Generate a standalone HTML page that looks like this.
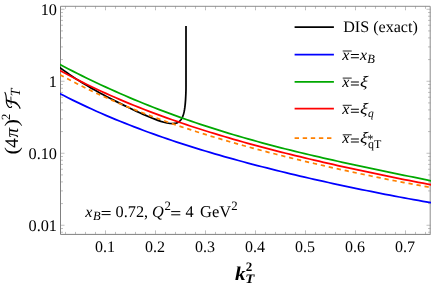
<!DOCTYPE html>
<html><head><meta charset="utf-8"><title>plot</title>
<style>html,body{margin:0;padding:0;background:#fff;overflow:hidden}body{width:433px;height:286px;position:relative;font-family:"Liberation Serif",serif}</style>
</head><body>
<svg width="433" height="286" viewBox="0 0 433 286" style="position:absolute;left:0;top:0;will-change:transform">
<rect width="433" height="286" fill="#fff"/>
<g stroke="#808080" fill="none">
<path d="M60.5 6.3 V234.4 H430.5" stroke-width="1"/>
<path d="M60.5 6.3 H430.2 V234.4" stroke-width="1" stroke="#8c8c8c"/>
<path d="M65.50 234.4 v-2.5 M65.50 6.3 v2.5 M75.50 234.4 v-2.5 M75.50 6.3 v2.5 M85.50 234.4 v-2.5 M85.50 6.3 v2.5 M95.50 234.4 v-2.5 M95.50 6.3 v2.5 M105.50 234.4 v-4 M105.50 6.3 v4 M115.50 234.4 v-2.5 M115.50 6.3 v2.5 M125.50 234.4 v-2.5 M125.50 6.3 v2.5 M135.50 234.4 v-2.5 M135.50 6.3 v2.5 M145.50 234.4 v-2.5 M145.50 6.3 v2.5 M155.50 234.4 v-4 M155.50 6.3 v4 M165.50 234.4 v-2.5 M165.50 6.3 v2.5 M175.50 234.4 v-2.5 M175.50 6.3 v2.5 M185.50 234.4 v-2.5 M185.50 6.3 v2.5 M195.50 234.4 v-2.5 M195.50 6.3 v2.5 M205.50 234.4 v-4 M205.50 6.3 v4 M215.50 234.4 v-2.5 M215.50 6.3 v2.5 M225.50 234.4 v-2.5 M225.50 6.3 v2.5 M235.50 234.4 v-2.5 M235.50 6.3 v2.5 M245.50 234.4 v-2.5 M245.50 6.3 v2.5 M255.50 234.4 v-4 M255.50 6.3 v4 M265.50 234.4 v-2.5 M265.50 6.3 v2.5 M275.50 234.4 v-2.5 M275.50 6.3 v2.5 M285.50 234.4 v-2.5 M285.50 6.3 v2.5 M295.50 234.4 v-2.5 M295.50 6.3 v2.5 M305.50 234.4 v-4 M305.50 6.3 v4 M315.50 234.4 v-2.5 M315.50 6.3 v2.5 M325.50 234.4 v-2.5 M325.50 6.3 v2.5 M335.50 234.4 v-2.5 M335.50 6.3 v2.5 M345.50 234.4 v-2.5 M345.50 6.3 v2.5 M355.50 234.4 v-4 M355.50 6.3 v4 M365.50 234.4 v-2.5 M365.50 6.3 v2.5 M375.50 234.4 v-2.5 M375.50 6.3 v2.5 M385.50 234.4 v-2.5 M385.50 6.3 v2.5 M395.50 234.4 v-2.5 M395.50 6.3 v2.5 M405.50 234.4 v-4 M405.50 6.3 v4 M415.50 234.4 v-2.5 M415.50 6.3 v2.5 M425.50 234.4 v-2.5 M425.50 6.3 v2.5 M60.5 232.23 h2.5 M430.5 232.23 h-2.5 M60.5 228.54 h2.5 M430.5 228.54 h-2.5 M60.5 225.25 h4 M430.5 225.25 h-4 M60.5 203.58 h2.5 M430.5 203.58 h-2.5 M60.5 190.90 h2.5 M430.5 190.90 h-2.5 M60.5 181.90 h2.5 M430.5 181.90 h-2.5 M60.5 174.92 h2.5 M430.5 174.92 h-2.5 M60.5 169.22 h2.5 M430.5 169.22 h-2.5 M60.5 164.40 h2.5 M430.5 164.40 h-2.5 M60.5 160.23 h2.5 M430.5 160.23 h-2.5 M60.5 156.54 h2.5 M430.5 156.54 h-2.5 M60.5 153.25 h4 M430.5 153.25 h-4 M60.5 131.58 h2.5 M430.5 131.58 h-2.5 M60.5 118.90 h2.5 M430.5 118.90 h-2.5 M60.5 109.90 h2.5 M430.5 109.90 h-2.5 M60.5 102.92 h2.5 M430.5 102.92 h-2.5 M60.5 97.22 h2.5 M430.5 97.22 h-2.5 M60.5 92.40 h2.5 M430.5 92.40 h-2.5 M60.5 88.23 h2.5 M430.5 88.23 h-2.5 M60.5 84.54 h2.5 M430.5 84.54 h-2.5 M60.5 81.25 h4 M430.5 81.25 h-4 M60.5 59.58 h2.5 M430.5 59.58 h-2.5 M60.5 46.90 h2.5 M430.5 46.90 h-2.5 M60.5 37.90 h2.5 M430.5 37.90 h-2.5 M60.5 30.92 h2.5 M430.5 30.92 h-2.5 M60.5 25.22 h2.5 M430.5 25.22 h-2.5 M60.5 20.40 h2.5 M430.5 20.40 h-2.5 M60.5 16.23 h2.5 M430.5 16.23 h-2.5 M60.5 12.54 h2.5 M430.5 12.54 h-2.5 M60.5 9.25 h4 M430.5 9.25 h-4" stroke-width="0.5"/>
</g>
<clipPath id="c"><rect x="60.0" y="6.3" width="371.0" height="228.1"/></clipPath>
<g clip-path="url(#c)" fill="none" stroke-width="1.75" stroke-linejoin="round">
<path d="M58.00 66.19 L61.03 68.46 L64.05 70.66 L67.08 72.81 L70.10 74.90 L73.13 76.93 L76.15 78.91 L79.18 80.84 L82.21 82.73 L85.23 84.57 L88.26 86.37 L91.28 88.13 L94.31 89.86 L97.33 91.55 L100.36 93.21 L103.38 94.84 L106.41 96.45 L109.44 98.03 L112.46 99.58 L115.49 101.12 L118.51 102.63 L121.54 104.13 L124.56 105.60 L127.59 107.06 L130.62 108.51 L133.64 109.93 L136.67 111.34 L139.69 112.72 L142.72 114.08 L145.74 115.42 L148.77 116.71 L151.79 117.97 L154.82 119.17 L157.85 120.31 L160.87 121.35 L163.90 122.26 L166.92 123.00 L169.95 123.50 L172.97 123.62 L176.00 123.16 L176.00 123.16 L176.24 123.09 L176.49 123.01 L176.73 122.92 L176.97 122.82 L177.22 122.72 L177.46 122.61 L177.71 122.49 L177.95 122.36 L178.19 122.22 L178.44 122.07 L178.68 121.90 L178.92 121.73 L179.17 121.54 L179.41 121.34 L179.65 121.12 L179.90 120.89 L180.14 120.64 L180.38 120.37 L180.63 120.08 L180.87 119.77 L181.12 119.43 L181.36 119.07 L181.60 118.68 L181.85 118.25 L182.09 117.79 L182.33 117.29 L182.58 116.74 L182.82 116.14 L183.06 115.48 L183.31 114.75 L183.55 113.93 L183.79 113.03 L184.04 112.00 L184.28 110.83 L184.53 109.48 L184.77 107.89 L185.01 105.99 L185.26 103.64 L185.50 100.60 L185.50 100.60 L185.61 98.83 L185.71 97.05 L185.79 95.25 L185.87 93.44 L185.93 91.62 L185.98 89.80 L186.00 87.96 L186.00 86.12 L186.00 84.27 L186.00 82.42 L186.00 80.57 L186.00 78.71 L186.00 76.84 L186.00 74.98 L186.00 73.11 L186.00 71.24 L186.00 69.37 L186.00 67.50 L186.00 65.63 L186.00 63.76 L186.00 61.88 L186.00 60.01 L186.00 58.13 L186.00 56.25 L186.00 54.38 L186.00 52.50 L186.00 50.62 L186.00 48.74 L186.00 46.87 L186.00 44.99 L186.00 43.11 L186.00 41.23 L186.00 39.35 L186.00 37.47 L186.00 35.59 L186.00 33.71 L186.00 31.83 L186.00 29.95 L186.00 28.07 L186.00 26.20 L186.00 26.00" stroke="#000"/>
<path d="M58.50 92.90 L63.23 95.34 L67.97 97.74 L72.70 100.10 L77.44 102.40 L82.17 104.66 L86.91 106.88 L91.64 109.05 L96.37 111.19 L101.11 113.28 L105.84 115.33 L110.58 117.35 L115.31 119.32 L120.04 121.26 L124.78 123.17 L129.51 125.04 L134.25 126.88 L138.98 128.68 L143.72 130.45 L148.45 132.20 L153.18 133.91 L157.92 135.59 L162.65 137.25 L167.39 138.87 L172.12 140.47 L176.85 142.05 L181.59 143.60 L186.32 145.12 L191.06 146.63 L195.79 148.11 L200.53 149.56 L205.26 151.00 L209.99 152.41 L214.73 153.81 L219.46 155.18 L224.20 156.54 L228.93 157.87 L233.66 159.19 L238.40 160.49 L243.13 161.78 L247.87 163.05 L252.60 164.30 L257.34 165.54 L262.07 166.76 L266.80 167.97 L271.54 169.16 L276.27 170.34 L281.01 171.51 L285.74 172.66 L290.47 173.80 L295.21 174.93 L299.94 176.04 L304.68 177.15 L309.41 178.24 L314.15 179.32 L318.88 180.39 L323.61 181.45 L328.35 182.49 L333.08 183.53 L337.82 184.56 L342.55 185.58 L347.28 186.58 L352.02 187.58 L356.75 188.56 L361.49 189.54 L366.22 190.51 L370.96 191.46 L375.69 192.41 L380.42 193.34 L385.16 194.27 L389.89 195.19 L394.63 196.09 L399.36 196.99 L404.09 197.87 L408.83 198.75 L413.56 199.61 L418.30 200.46 L423.03 201.30 L427.77 202.13 L432.50 202.95" stroke="#0000ff"/>
<path d="M58.50 63.69 L63.23 66.20 L67.97 68.67 L72.70 71.10 L77.44 73.50 L82.17 75.86 L86.91 78.19 L91.64 80.48 L96.37 82.74 L101.11 84.96 L105.84 87.15 L110.58 89.30 L115.31 91.42 L120.04 93.51 L124.78 95.57 L129.51 97.59 L134.25 99.59 L138.98 101.55 L143.72 103.48 L148.45 105.37 L153.18 107.24 L157.92 109.08 L162.65 110.89 L167.39 112.67 L172.12 114.42 L176.85 116.14 L181.59 117.84 L186.32 119.50 L191.06 121.14 L195.79 122.76 L200.53 124.34 L205.26 125.90 L209.99 127.44 L214.73 128.95 L219.46 130.44 L224.20 131.90 L228.93 133.34 L233.66 134.76 L238.40 136.15 L243.13 137.52 L247.87 138.88 L252.60 140.21 L257.34 141.52 L262.07 142.81 L266.80 144.08 L271.54 145.33 L276.27 146.57 L281.01 147.78 L285.74 148.98 L290.47 150.17 L295.21 151.34 L299.94 152.49 L304.68 153.63 L309.41 154.75 L314.15 155.86 L318.88 156.96 L323.61 158.05 L328.35 159.12 L333.08 160.18 L337.82 161.24 L342.55 162.28 L347.28 163.31 L352.02 164.34 L356.75 165.36 L361.49 166.37 L366.22 167.37 L370.96 168.37 L375.69 169.37 L380.42 170.36 L385.16 171.34 L389.89 172.33 L394.63 173.31 L399.36 174.29 L404.09 175.27 L408.83 176.25 L413.56 177.23 L418.30 178.21 L423.03 179.19 L427.77 180.18 L432.50 181.17" stroke="#00a800"/>
<path d="M58.50 69.72 L63.23 72.30 L67.97 74.83 L72.70 77.31 L77.44 79.74 L82.17 82.12 L86.91 84.45 L91.64 86.75 L96.37 88.99 L101.11 91.20 L105.84 93.36 L110.58 95.48 L115.31 97.56 L120.04 99.60 L124.78 101.61 L129.51 103.57 L134.25 105.51 L138.98 107.40 L143.72 109.27 L148.45 111.09 L153.18 112.89 L157.92 114.66 L162.65 116.39 L167.39 118.10 L172.12 119.77 L176.85 121.42 L181.59 123.04 L186.32 124.64 L191.06 126.21 L195.79 127.75 L200.53 129.27 L205.26 130.77 L209.99 132.24 L214.73 133.69 L219.46 135.12 L224.20 136.53 L228.93 137.92 L233.66 139.29 L238.40 140.64 L243.13 141.97 L247.87 143.29 L252.60 144.58 L257.34 145.86 L262.07 147.13 L266.80 148.38 L271.54 149.61 L276.27 150.83 L281.01 152.04 L285.74 153.23 L290.47 154.40 L295.21 155.57 L299.94 156.72 L304.68 157.86 L309.41 158.99 L314.15 160.11 L318.88 161.21 L323.61 162.31 L328.35 163.40 L333.08 164.47 L337.82 165.54 L342.55 166.59 L347.28 167.64 L352.02 168.67 L356.75 169.70 L361.49 170.72 L366.22 171.73 L370.96 172.73 L375.69 173.73 L380.42 174.71 L385.16 175.69 L389.89 176.66 L394.63 177.62 L399.36 178.58 L404.09 179.52 L408.83 180.46 L413.56 181.39 L418.30 182.32 L423.03 183.23 L427.77 184.14 L432.50 185.04" stroke="#ff0000"/>
<path d="M58.50 73.86 L63.23 76.46 L67.97 79.00 L72.70 81.49 L77.44 83.93 L82.17 86.31 L86.91 88.65 L91.64 90.93 L96.37 93.17 L101.11 95.37 L105.84 97.52 L110.58 99.62 L115.31 101.69 L120.04 103.71 L124.78 105.70 L129.51 107.64 L134.25 109.55 L138.98 111.42 L143.72 113.26 L148.45 115.06 L153.18 116.83 L157.92 118.57 L162.65 120.28 L167.39 121.96 L172.12 123.61 L176.85 125.23 L181.59 126.82 L186.32 128.39 L191.06 129.94 L195.79 131.46 L200.53 132.95 L205.26 134.42 L209.99 135.88 L214.73 137.31 L219.46 138.71 L224.20 140.10 L228.93 141.47 L233.66 142.83 L238.40 144.16 L243.13 145.48 L247.87 146.78 L252.60 148.06 L257.34 149.33 L262.07 150.58 L266.80 151.82 L271.54 153.04 L276.27 154.25 L281.01 155.45 L285.74 156.63 L290.47 157.80 L295.21 158.96 L299.94 160.11 L304.68 161.24 L309.41 162.37 L314.15 163.48 L318.88 164.58 L323.61 165.67 L328.35 166.75 L333.08 167.82 L337.82 168.88 L342.55 169.92 L347.28 170.96 L352.02 171.99 L356.75 173.00 L361.49 174.01 L366.22 175.00 L370.96 175.99 L375.69 176.96 L380.42 177.93 L385.16 178.88 L389.89 179.82 L394.63 180.75 L399.36 181.67 L404.09 182.58 L408.83 183.48 L413.56 184.36 L418.30 185.23 L423.03 186.09 L427.77 186.93 L432.50 187.76" stroke="#ff8000" stroke-dasharray="4.3 3.845" stroke-dashoffset="-1.65"/>
</g>
<line x1="294.6" y1="27.1" x2="333.9" y2="27.1" stroke="#000" stroke-width="1.8"/>
<line x1="294.6" y1="54.65" x2="333.9" y2="54.65" stroke="#0000ff" stroke-width="1.8"/>
<line x1="294.6" y1="81.9" x2="333.9" y2="81.9" stroke="#00a800" stroke-width="1.8"/>
<line x1="294.6" y1="108.7" x2="333.9" y2="108.7" stroke="#ff0000" stroke-width="1.8"/>
<line x1="294.6" y1="138.1" x2="333.9" y2="138.1" stroke="#ff8000" stroke-width="1.8" stroke-dasharray="4.4 3.7"/>
<text x="57.0" y="14.75" font-size="16.3" text-anchor="end" style="font-family:'Liberation Serif',serif;text-rendering:geometricPrecision;" >10</text>
<text x="57.0" y="86.75" font-size="16.3" text-anchor="end" style="font-family:'Liberation Serif',serif;text-rendering:geometricPrecision;" >1</text>
<text x="57.0" y="158.75" font-size="16.3" text-anchor="end" style="font-family:'Liberation Serif',serif;text-rendering:geometricPrecision;" >0.10</text>
<text x="57.0" y="230.75" font-size="16.3" text-anchor="end" style="font-family:'Liberation Serif',serif;text-rendering:geometricPrecision;" >0.01</text>
<text x="105.0" y="252.1" font-size="16" text-anchor="middle" style="font-family:'Liberation Serif',serif;text-rendering:geometricPrecision;" >0.1</text>
<text x="155.0" y="252.1" font-size="16" text-anchor="middle" style="font-family:'Liberation Serif',serif;text-rendering:geometricPrecision;" >0.2</text>
<text x="205.0" y="252.1" font-size="16" text-anchor="middle" style="font-family:'Liberation Serif',serif;text-rendering:geometricPrecision;" >0.3</text>
<text x="255.0" y="252.1" font-size="16" text-anchor="middle" style="font-family:'Liberation Serif',serif;text-rendering:geometricPrecision;" >0.4</text>
<text x="305.0" y="252.1" font-size="16" text-anchor="middle" style="font-family:'Liberation Serif',serif;text-rendering:geometricPrecision;" >0.5</text>
<text x="355.0" y="252.1" font-size="16" text-anchor="middle" style="font-family:'Liberation Serif',serif;text-rendering:geometricPrecision;" >0.6</text>
<text x="405.0" y="252.1" font-size="16" text-anchor="middle" style="font-family:'Liberation Serif',serif;text-rendering:geometricPrecision;" >0.7</text>
<text x="343.2" y="32.4" font-size="16.1" text-anchor="start" style="font-family:'Liberation Serif',serif;text-rendering:geometricPrecision;" >DIS (exact)</text>
<text x="342.2" y="59.9" font-size="16" text-anchor="start" style="font-family:'Liberation Serif',serif;text-rendering:geometricPrecision;font-style:italic;" >x</text><line x1="342.7" y1="51.00" x2="351.7" y2="51.00" stroke="#222" stroke-width="1"/><path d="M350.9 54.55 h8.0 M350.9 57.70 h8.0" stroke="#000" stroke-width="1.1" fill="none"/>
<text x="359.9" y="59.9" font-size="16" text-anchor="start" style="font-family:'Liberation Serif',serif;text-rendering:geometricPrecision;font-style:italic;" >x</text>
<text x="367.2" y="62.9" font-size="12.5" text-anchor="start" style="font-family:'Liberation Serif',serif;text-rendering:geometricPrecision;font-style:italic;" >B</text>
<text x="342.2" y="86.85" font-size="16" text-anchor="start" style="font-family:'Liberation Serif',serif;text-rendering:geometricPrecision;font-style:italic;" >x</text><line x1="342.7" y1="78.10" x2="351.7" y2="78.10" stroke="#222" stroke-width="1"/><path d="M350.9 81.95 h8.0 M350.9 85.00 h8.0" stroke="#000" stroke-width="1.1" fill="none"/>
<text x="359.8" y="86.85" font-size="16" style="font-family:'Liberation Serif',serif;text-rendering:geometricPrecision;font-style:italic;" transform="translate(359.8,86.85) skewX(-6) scale(1.12,1) translate(-359.8,-86.85)">ξ</text>
<text x="342.2" y="114.2" font-size="16" text-anchor="start" style="font-family:'Liberation Serif',serif;text-rendering:geometricPrecision;font-style:italic;" >x</text><line x1="342.7" y1="105.30" x2="351.7" y2="105.30" stroke="#222" stroke-width="1"/><path d="M350.9 109.20 h8.0 M350.9 112.30 h8.0" stroke="#000" stroke-width="1.1" fill="none"/>
<text x="359.8" y="114.2" font-size="16" style="font-family:'Liberation Serif',serif;text-rendering:geometricPrecision;font-style:italic;" transform="translate(359.8,114.2) skewX(-6) scale(1.12,1) translate(-359.8,-114.2)">ξ</text>
<text x="368.0" y="117.10000000000001" font-size="11.5" text-anchor="start" style="font-family:'Liberation Serif',serif;text-rendering:geometricPrecision;font-style:italic;" >q</text>
<text x="342.2" y="143.1" font-size="16" text-anchor="start" style="font-family:'Liberation Serif',serif;text-rendering:geometricPrecision;font-style:italic;" >x</text><line x1="342.7" y1="134.80" x2="351.7" y2="134.80" stroke="#222" stroke-width="1"/><path d="M350.9 139.00 h8.0 M350.9 142.00 h8.0" stroke="#000" stroke-width="1.1" fill="none"/>
<text x="359.8" y="143.1" font-size="16" style="font-family:'Liberation Serif',serif;text-rendering:geometricPrecision;font-style:italic;" transform="translate(359.8,143.1) skewX(-6) scale(1.12,1) translate(-359.8,-143.1)">ξ</text>
<text x="368.0" y="147.6" font-size="12" text-anchor="start" style="font-family:'Liberation Serif',serif;text-rendering:geometricPrecision;" >qT</text>
<text x="367.3" y="142.6" font-size="12.5" text-anchor="start" style="font-family:'Liberation Serif',serif;text-rendering:geometricPrecision;" >*</text>
<text x="85.3" y="216.9" font-size="16" text-anchor="start" style="font-family:'Liberation Serif',serif;text-rendering:geometricPrecision;font-style:italic;" >x</text>
<text x="93.0" y="219.70000000000002" font-size="12.5" text-anchor="start" style="font-family:'Liberation Serif',serif;text-rendering:geometricPrecision;font-style:italic;" >B</text>
<path d="M101.6 211.50 h9.0 M101.6 214.60 h9.0" stroke="#000" stroke-width="1.0" fill="none"/>
<text x="115.6" y="216.9" font-size="16.3" text-anchor="start" style="font-family:'Liberation Serif',serif;text-rendering:geometricPrecision;" >0.72,</text>
<text x="152.0" y="216.9" font-size="16.3" text-anchor="start" style="font-family:'Liberation Serif',serif;text-rendering:geometricPrecision;font-style:italic;" >Q</text>
<text x="164.6" y="210.4" font-size="12.8" text-anchor="start" style="font-family:'Liberation Serif',serif;text-rendering:geometricPrecision;" >2</text>
<path d="M171.2 211.60 h9.1 M171.2 214.80 h9.1" stroke="#000" stroke-width="1.0" fill="none"/>
<text x="185.5" y="216.9" font-size="16.3" text-anchor="start" style="font-family:'Liberation Serif',serif;text-rendering:geometricPrecision;" >4</text>
<text x="200.0" y="216.9" font-size="16.5" text-anchor="start" style="font-family:'Liberation Serif',serif;text-rendering:geometricPrecision;" >GeV</text>
<text x="231.3" y="210.4" font-size="12.8" text-anchor="start" style="font-family:'Liberation Serif',serif;text-rendering:geometricPrecision;" >2</text>
<text x="0" y="0" font-size="19.6" style="font-family:'Liberation Serif',serif;text-rendering:geometricPrecision;font-weight:bold;font-style:italic;" transform="translate(235.1,279.6) scale(1.08,1)">k</text>
<text x="245.8" y="271.2" font-size="13" text-anchor="start" style="font-family:'Liberation Serif',serif;text-rendering:geometricPrecision;font-weight:bold;" >2</text>
<text x="0" y="0" font-size="13" style="font-family:'Liberation Serif',serif;text-rendering:geometricPrecision;font-weight:bold;font-style:italic;" transform="translate(245.2,283.2) scale(1.14,1)">T</text>
<g transform="translate(17.5,155.3) rotate(-90)"><text x="0" y="0" font-size="19.5" style="font-family:'Liberation Serif',serif;text-rendering:geometricPrecision;" transform="translate(0.9,0) scale(1.15,1)">(</text><text x="7.6" y="0" font-size="19.3" text-anchor="start" style="font-family:'Liberation Serif',serif;text-rendering:geometricPrecision;" >4</text><text x="17.8" y="0" font-size="19.3" text-anchor="start" style="font-family:'Liberation Serif',serif;text-rendering:geometricPrecision;font-style:italic;" >π</text><text x="0" y="0" font-size="19.5" style="font-family:'Liberation Serif',serif;text-rendering:geometricPrecision;" transform="translate(28.8,0) scale(1.15,1)">)</text><text x="35.2" y="-7.9" font-size="12.5" text-anchor="start" style="font-family:'Liberation Serif',serif;text-rendering:geometricPrecision;" >2</text><text x="59.0" y="2.9" font-size="14" text-anchor="start" style="font-family:'Liberation Serif',serif;text-rendering:geometricPrecision;font-style:italic;" >T</text><g fill="none" stroke="#000" stroke-linecap="round" stroke-linejoin="round" transform="translate(0,0.7)"><path d="M62.85 -13.25 C61.8 -12.6 60.8 -12.4 59.7 -12.2 C58.5 -12.0 57.4 -11.9 56.2 -11.85 C55.2 -11.85 54.3 -11.9 53.4 -11.85 C52.6 -11.7 51.9 -11.5 51.0 -11.15 C50.3 -10.8 49.6 -10.5 49.1 -10.1 C48.5 -9.6 48.1 -9.2 47.9 -8.7 C47.7 -8.2 47.7 -7.7 47.9 -7.3 C48.1 -6.9 48.4 -6.7 48.8 -6.6" stroke-width="1.1"/><path d="M54.9 -11.2 C54.5 -10 54.1 -9 53.8 -8.0 C53.5 -6.8 53.3 -5.6 53.1 -4.5 C52.8 -3.4 52.4 -2.5 51.8 -1.7" stroke-width="1.8"/><path d="M51.8 -1.7 C51.2 -0.9 50.4 -0.2 49.6 0.4 C48.8 1.0 48.0 1.4 47.0 1.8" stroke-width="1.2"/><path d="M58.3 -7.3 L51.3 -7.1" stroke-width="0.8"/></g></g>
</svg>
</body></html>
